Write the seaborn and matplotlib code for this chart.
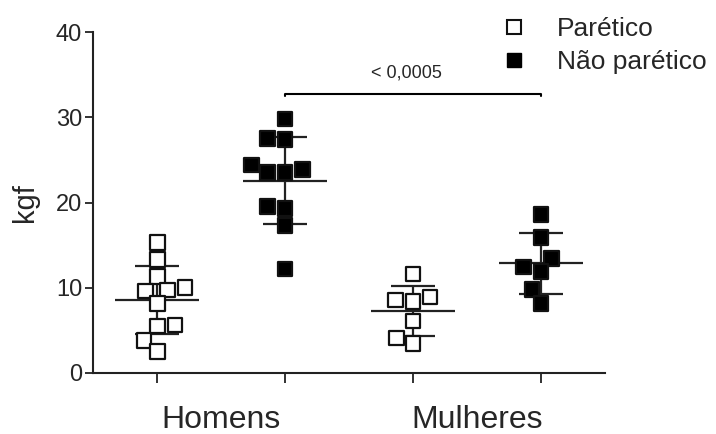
import numpy as np
import pandas as pd
import matplotlib
matplotlib.use("Agg")
import matplotlib.pyplot as plt
import seaborn as sns
from matplotlib.lines import Line2D

sns.set_style("ticks")
plt.rcParams['font.family'] = ['Liberation Sans', 'DejaVu Sans']

# valores (kgf)
homens_paretico = [15.3, 13.3, 11.3, 9.7, 10.0, 9.6, 8.1, 5.6, 5.5, 3.8, 2.5]
homens_nao_paretico = [29.8, 27.5, 27.4, 23.9, 23.5, 23.5, 24.4, 19.3, 19.5, 17.3, 12.2]
mulheres_paretico = [11.6, 8.55, 8.4, 8.9, 6.1, 4.1, 3.45]
mulheres_nao_paretico = [18.6, 15.9, 13.45, 12.4, 11.9, 9.8, 8.1]

grupos = ["H_P", "H_NP", "M_P", "M_NP"]
condicoes = ["Parético", "Não parético", "Parético", "Não parético"]
# média e desvio padrão (linhas horizontais)
medias = [8.55, 22.55, 7.25, 12.85]
desvios = [4.0, 5.1, 2.95, 3.6]

categorias = ["Homens", "Mulheres"]
p_valor = "< 0,0005"

valores = [homens_paretico, homens_nao_paretico, mulheres_paretico, mulheres_nao_paretico]
rows = []
for g, c, v in zip(grupos, condicoes, valores):
    for val in v:
        rows.append({"grupo": g, "condicao": c, "kgf": val})
df = pd.DataFrame(rows)

fig = plt.figure(figsize=(7.16, 4.34), dpi=100)
ax = fig.add_axes([0.1303, 0.1412, 0.7143, 0.7844])

sns.swarmplot(data=df, x="grupo", y="kgf", hue="condicao", order=grupos,
              hue_order=["Parético", "Não parético"],
              palette={"Parético": "white", "Não parético": "black"},
              marker="s", size=10.5, linewidth=1.6, edgecolor="#111111",
              dodge=False, legend=False, ax=ax, zorder=3, clip_on=False)

# média ± DP
for i, (m, s) in enumerate(zip(medias, desvios)):
    ax.hlines(m, i - 0.33, i + 0.33, color="#222222", lw=1.6, zorder=2)
    ax.hlines([m - s, m + s], i - 0.17, i + 0.17, color="#222222", lw=1.6, zorder=2)
    ax.vlines(i, m - s, m + s, color="#222222", lw=1.6, zorder=2)

ax.set_xlim(-0.5, 3.5)
ax.set_ylim(0, 40)
ax.set_yticks([0, 10, 20, 30, 40])
ax.set_xticks([0, 1, 2, 3])
ax.set_xticklabels([])
ax.set_xlabel("")
ax.set_ylabel("kgf", fontsize=21, labelpad=12)
ax.tick_params(axis="y", labelsize=17, length=6, width=1.3, color="#222222", pad=2)
ax.tick_params(axis="x", length=7, width=1.3, color="#222222")
sns.despine(ax=ax)
for sp in ["left", "bottom"]:
    ax.spines[sp].set_linewidth(1.5)
    ax.spines[sp].set_color("#222222")

# rótulos das categorias
for j, cat in enumerate(categorias):
    ax.text(2 * j + 0.5, -5.6, cat, ha="center", va="center", fontsize=23)

# barra de significância
ax.plot([1, 1, 3, 3], [32.5, 32.8, 32.8, 32.5], color="black", lw=1.5, clip_on=False)
ax.text(1.95, 35.2, p_valor, ha="center", va="center", fontsize=13)

# legenda
handles = [Line2D([], [], marker="s", ls="", markersize=9.5, markerfacecolor="white",
                  markeredgecolor="#111111", markeredgewidth=1.5, label="Parético"),
           Line2D([], [], marker="s", ls="", markersize=9.5, markerfacecolor="black",
                  markeredgecolor="black", label="Não parético")]
fig.legend(handles=handles, loc="upper left", bbox_to_anchor=(0.662, 1.015), frameon=False,
           fontsize=19, handletextpad=1.05, labelspacing=0.35, handlelength=1.2)

fig.savefig("out.png", dpi=100)
